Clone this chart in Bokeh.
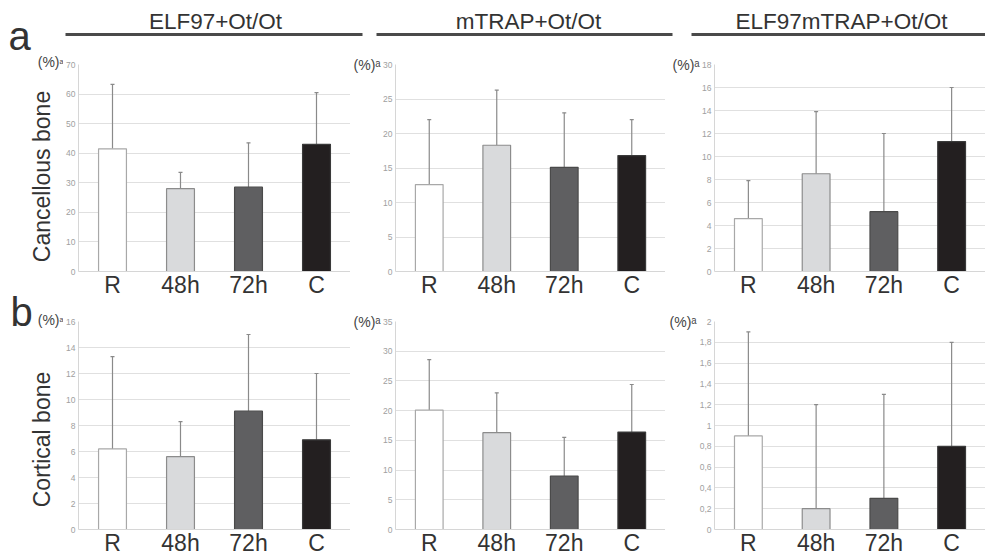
import math
from bokeh.plotting import figure
from bokeh.models import (Range1d, FactorRange, FixedTicker, Label, ColumnDataSource,
                          LinearAxis)
from bokeh.layouts import column, row
from bokeh.embed import file_html
from bokeh.resources import INLINE

# ---------------- data ----------------
groups = ["R", "48h", "72h", "C"]
col_titles = ["ELF97+Ot/Ot", "mTRAP+Ot/Ot", "ELF97mTRAP+Ot/Ot"]
row_titles = ["Cancellous bone", "Cortical bone"]
row_letters = ["a", "b"]
unit_text = "(%)"
unit_note = "a"

# row a: cancellous bone (mean, mean+SD)
canc_elf_mean = [41.5, 28.0, 28.5, 43.0]
canc_elf_top = [63.3, 33.5, 43.5, 60.5]
canc_mtrap_mean = [12.6, 18.3, 15.1, 16.8]
canc_mtrap_top = [22.0, 26.3, 23.0, 22.0]
canc_both_mean = [4.6, 8.5, 5.2, 11.3]
canc_both_top = [7.9, 13.9, 12.0, 16.0]

# row b: cortical bone
cort_elf_mean = [6.2, 5.6, 9.1, 6.9]
cort_elf_top = [13.3, 8.3, 15.0, 12.0]
cort_mtrap_mean = [20.1, 16.3, 9.0, 16.4]
cort_mtrap_top = [28.6, 23.0, 15.5, 24.4]
cort_both_mean = [0.9, 0.2, 0.3, 0.8]
cort_both_top = [1.9, 1.2, 1.3, 1.8]

# axis maxima and tick steps
canc_ymax = [70, 30, 18]
canc_step = [10, 5, 2]
cort_ymax = [16, 35, 2]
cort_step = [2, 5, 0.2]

bar_fill = ["#ffffff", "#d9dadc", "#5f5f61", "#231f20"]
bar_line = ["#a8a8a8", "#8c8c8c", "#4a4a4a", "#3a3a3a"]

FONT = "Liberation Sans"
TXT = "#333333"

# ---------------- layout constants (pixels) ----------------
W, H = 985, 558
LEFT_W = 63
HEADER_H = 40
ROW_H = [260, 258]
TOP_BORDERS = [24, 21]
BOTTOM_BORDERS = [27, 28]
PANEL_W = [287, 315, 320]
PANEL_LEFT = [15, 43, 49]


def blank(width, height):
    f = figure(width=width, height=height,
               x_range=Range1d(0, width), y_range=Range1d(0, height),
               min_border=0, output_backend="svg", toolbar_location=None)
    f.axis.visible = False
    f.grid.grid_line_color = None
    f.outline_line_color = None
    f.background_fill_color = "white"
    f.border_fill_color = "white"
    return f


def txt(f, x, y, s, size, align="center", baseline="middle", angle=0.0, color=TXT):
    f.add_layout(Label(x=x, y=y, text=s, text_align=align, text_baseline=baseline,
                       angle=angle, text_font=FONT, text_font_size=size,
                       text_color=color))


def fmt_tick(v):
    if abs(v - round(v)) < 1e-9:
        return str(int(round(v)))
    return ("%.1f" % v).replace(".", ",")


def make_panel(i, r, means, tops, ymax, step):
    ticks = []
    t = 0.0
    while t <= ymax + 1e-9:
        ticks.append(round(t, 6))
        t += step
    p = figure(
        x_range=FactorRange(*groups, range_padding=0),
        y_range=Range1d(0, ymax),
        width=PANEL_W[i], height=ROW_H[r],
        min_border_left=PANEL_LEFT[i], min_border_right=0,
        min_border_top=TOP_BORDERS[r], min_border_bottom=BOTTOM_BORDERS[r],
        output_backend="svg", toolbar_location=None,
    )
    p.outline_line_color = None
    p.background_fill_color = "white"
    p.border_fill_color = "white"

    src = ColumnDataSource(dict(g=groups, m=means, t=tops, fill=bar_fill, line=bar_line))
    p.segment(x0="g", y0="m", x1="g", y1="t", source=src,
              line_color="#8a8a8a", line_width=1.2)
    p.scatter(x="g", y="t", source=src, marker="dash", size=4,
              line_color="#8a8a8a", line_width=1.2)
    p.vbar(x="g", top="m", bottom=0, width=0.41, source=src,
           fill_color="fill", line_color="line", line_width=1.2)

    p.yaxis.ticker = FixedTicker(ticks=ticks)
    p.yaxis.major_label_overrides = {tk: fmt_tick(tk) for tk in ticks}
    p.yaxis.major_label_text_font = FONT
    p.yaxis.major_label_text_font_size = "8.5px"
    p.yaxis.major_label_text_color = "#a0a0a0"
    p.yaxis.major_tick_line_color = None
    p.yaxis.minor_tick_line_color = None
    p.yaxis.major_tick_out = 0
    p.yaxis.axis_line_color = "#d6d6d6"
    p.yaxis.major_label_standoff = 3

    p.xaxis.major_label_text_font = FONT
    p.xaxis.major_label_text_font_size = "23px"
    p.xaxis.major_label_text_color = TXT
    p.xaxis.major_tick_line_color = None
    p.xaxis.minor_tick_line_color = None
    p.xaxis.major_tick_out = 0
    p.xaxis.major_label_standoff = 0
    p.xaxis.axis_line_color = "#d6d6d6"

    p.xgrid.grid_line_color = None
    p.ygrid.grid_line_color = "#e0e0e0"
    p.ygrid.grid_line_width = 1

    if i > 0:
        # unit label "(%)a" next to the top of the y axis, as a label-only axis
        ua = LinearAxis(ticker=FixedTicker(ticks=[]),
                        axis_label=unit_text + "\u1d43",
                        axis_label_orientation="horizontal",
                        axis_label_align="end",
                        axis_label_standoff=0,
                        axis_label_text_font=FONT,
                        axis_label_text_font_size="14px",
                        axis_label_text_font_style="normal",
                        axis_label_text_baseline="middle",
                        axis_label_text_color="#444444",
                        axis_line_color=None, major_tick_line_color=None,
                        minor_tick_line_color=None, major_tick_out=0,
                        major_label_text_font_size="0px")
        p.add_layout(ua, "left")
    return p


# ---------------- left strip (letters, row titles, first unit label) ----------------
left = blank(LEFT_W, H)
txt(left, 19, H - 35, row_letters[0], "40px")
txt(left, 21, H - 311, row_letters[1], "40px")
txt(left, 41, H - 176, row_titles[0], "23px", angle=math.pi / 2)
txt(left, 41, H - 439, row_titles[1], "23px", angle=math.pi / 2)
for ym in (61, 319):
    txt(left, 59, H - ym, unit_text, "14px", align="right", color="#444444")
    txt(left, 59, H - ym - 3, unit_note, "7px", align="left", baseline="bottom", color="#444444")

# ---------------- header (column titles + rules) ----------------
header = blank(W - LEFT_W, HEADER_H)
title_x = [215, 528, 841]
line_x0 = [65, 376, 691]
line_x1 = [362, 672, 985]
for tx, tt in zip(title_x, col_titles):
    txt(header, tx - LEFT_W, HEADER_H - 21, tt, "22.5px")
header.segment(x0=[v - LEFT_W for v in line_x0], y0=[HEADER_H - 34] * 3,
               x1=[v - LEFT_W for v in line_x1], y1=[HEADER_H - 34] * 3,
               line_color="#4a4a4a", line_width=3)

# ---------------- panels ----------------
pa = [
    make_panel(0, 0, canc_elf_mean, canc_elf_top, canc_ymax[0], canc_step[0]),
    make_panel(1, 0, canc_mtrap_mean, canc_mtrap_top, canc_ymax[1], canc_step[1]),
    make_panel(2, 0, canc_both_mean, canc_both_top, canc_ymax[2], canc_step[2]),
]
pb = [
    make_panel(0, 1, cort_elf_mean, cort_elf_top, cort_ymax[0], cort_step[0]),
    make_panel(1, 1, cort_mtrap_mean, cort_mtrap_top, cort_ymax[1], cort_step[1]),
    make_panel(2, 1, cort_both_mean, cort_both_top, cort_ymax[2], cort_step[2]),
]

layout = row(left, column(header, row(*pa), row(*pb)))

with open("out.html", "w") as f:
    f.write(file_html(layout, INLINE))
